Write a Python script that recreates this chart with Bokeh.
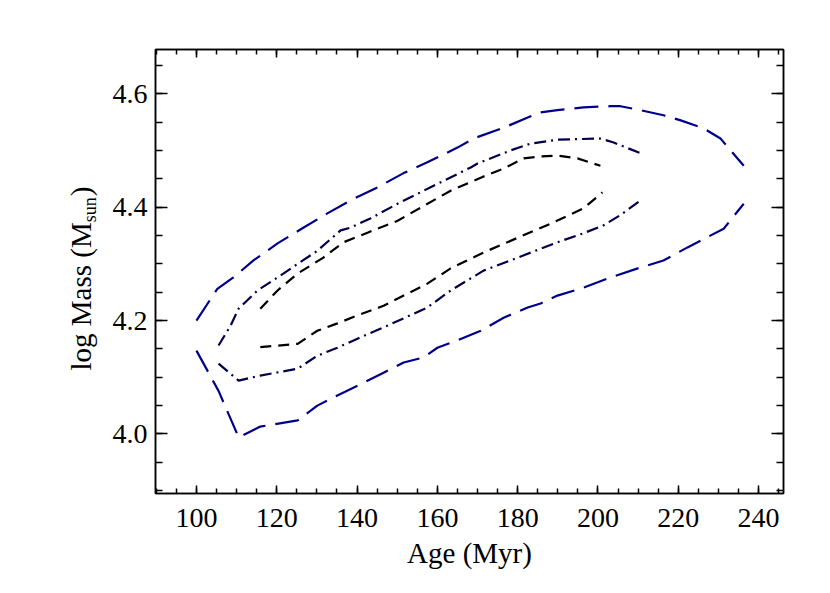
import math
from bokeh.plotting import figure
from bokeh.layouts import row
from bokeh.models import (LinearAxis, SingleIntervalTicker, PrintfTickFormatter,
                          CustomJSTickFormatter, Range1d)
from bokeh.core.properties import value
from bokeh.embed import file_html
from bokeh.resources import INLINE

# ---- data ----
outer_up_age = [100.0, 105.2, 109.2, 114.2, 120.2, 126.7, 132.6, 138.4, 145.1, 151.6, 157.5,
                165.0, 169.0, 176.5, 182.5, 185.7, 189.9, 196.4, 203.1, 205.6, 209.9, 216.3,
                220.6, 226.3, 230.5, 236.3]
outer_up_mass = [4.200, 4.256, 4.276, 4.306, 4.336, 4.364, 4.389, 4.412, 4.435, 4.460, 4.479,
                 4.505, 4.521, 4.540, 4.558, 4.567, 4.571, 4.576, 4.578, 4.578, 4.572, 4.562,
                 4.553, 4.539, 4.521, 4.473]
outer_lo_age = [100.0, 105.5, 110.5, 115.9, 125.2, 130.1, 135.1, 140.1, 146.6, 151.6, 156.6,
                160.0, 165.0, 170.8, 176.5, 182.5, 185.7, 189.9, 196.4, 203.1, 209.9, 216.3,
                222.3, 231.3, 236.3]
outer_lo_mass = [4.147, 4.076, 3.994, 4.013, 4.024, 4.050, 4.068, 4.085, 4.108, 4.126, 4.135,
                 4.152, 4.165, 4.182, 4.205, 4.223, 4.230, 4.244, 4.258, 4.276, 4.292, 4.306,
                 4.329, 4.362, 4.406]

mid_up_age = [105.5, 108.5, 110.5, 115.2, 120.2, 125.2, 130.1, 135.9, 138.4, 143.3, 150.1,
              158.3, 168.3, 170.0, 178.2, 183.2, 189.9, 200.6, 203.9, 210.6]
mid_up_mass = [4.156, 4.191, 4.221, 4.253, 4.276, 4.300, 4.323, 4.359, 4.364, 4.380, 4.406,
               4.435, 4.470, 4.477, 4.500, 4.512, 4.519, 4.521, 4.514, 4.495]
mid_lo_age = [105.5, 110.5, 115.9, 125.2, 130.1, 135.1, 140.1, 146.6, 151.6, 157.5, 163.3,
              171.5, 180.0, 189.9, 196.4, 201.4, 205.6, 210.6]
mid_lo_mass = [4.124, 4.094, 4.103, 4.115, 4.138, 4.152, 4.168, 4.188, 4.204, 4.223, 4.253,
               4.288, 4.311, 4.338, 4.354, 4.368, 4.386, 4.412]

in_up_age = [115.9, 120.2, 125.2, 131.6, 136.6, 142.6, 150.1, 155.8, 163.3, 170.8, 176.5,
             181.5, 185.0, 189.9, 194.9, 200.6]
in_up_mass = [4.221, 4.253, 4.283, 4.311, 4.338, 4.355, 4.376, 4.399, 4.429, 4.452, 4.468,
              4.486, 4.489, 4.491, 4.486, 4.473]
in_lo_age = [115.9, 125.2, 130.1, 135.1, 140.1, 146.6, 151.6, 157.5, 163.3, 171.5, 180.0,
             188.9, 196.4, 201.1]
in_lo_mass = [4.153, 4.159, 4.182, 4.195, 4.209, 4.226, 4.244, 4.265, 4.292, 4.320, 4.346,
              4.373, 4.398, 4.426]

x_title = "Age (Myr)"
y_title_parts = ["log Mass (M", "sun", ")"]

x_lo, x_hi = 89.8, 246.2
y_lo, y_hi = 3.895, 4.678

# ---- layout ----
LW = 104                 # width of the side panel that carries the y title
FL, FT, FW, FH = 155, 49, 628, 444
W, H = 798, 580
FB = H - FT - FH
FONT = "Liberation Serif"

p = figure(width=W - LW, height=H, output_backend="svg", toolbar_location=None,
           x_range=Range1d(x_lo, x_hi), y_range=Range1d(y_lo, y_hi),
           min_border_left=FL - LW, min_border_top=FT,
           min_border_right=W - FL - FW, min_border_bottom=FB,
           x_axis_location=None, y_axis_location=None)
p.xgrid.visible = False
p.ygrid.visible = False
p.outline_line_color = "black"
p.outline_line_width = 1.5
p.background_fill_color = "white"
p.border_fill_color = "white"


def style_axis(ax, tin, minin, labels=True):
    ax.major_tick_in = tin
    ax.major_tick_out = 0
    ax.minor_tick_in = minin
    ax.minor_tick_out = 0
    ax.axis_line_color = "black"
    ax.axis_line_width = 1.5
    ax.major_tick_line_width = 1.5
    ax.minor_tick_line_width = 1.5
    ax.major_tick_line_color = "black"
    ax.minor_tick_line_color = "black"
    ax.major_label_text_font = FONT
    ax.major_label_text_font_size = "28px"
    ax.major_label_text_color = "black"
    if not labels:
        ax.formatter = CustomJSTickFormatter(code="return ''")
        ax.major_label_standoff = 0


xt = SingleIntervalTicker(interval=20, num_minor_ticks=4)
yt = SingleIntervalTicker(interval=0.2, num_minor_ticks=4)

xb = LinearAxis(ticker=xt)
style_axis(xb, 8, 5)
xb.major_label_standoff = 15
xb.axis_label = x_title
xb.axis_label_text_font = FONT
xb.axis_label_text_font_size = "29px"
xb.axis_label_text_font_style = "normal"
xb.axis_label_text_color = "black"
xb.axis_label_standoff = 7
p.add_layout(xb, "below")

xa = LinearAxis(ticker=xt)
style_axis(xa, 8, 5, labels=False)
p.add_layout(xa, "above")

yl = LinearAxis(ticker=yt, formatter=PrintfTickFormatter(format="%.1f"))
style_axis(yl, 12, 7)
yl.major_label_standoff = 8
p.add_layout(yl, "left")

yr = LinearAxis(ticker=yt)
style_axis(yr, 12, 7, labels=False)
p.add_layout(yr, "right")

# ---- contours ----
BLUE = "#00008c"
NAVY = "#00004d"
p.line(outer_up_age, outer_up_mass, line_color=BLUE, line_width=2.2, line_dash="24 10")
p.line(outer_lo_age, outer_lo_mass, line_color=BLUE, line_width=2.2, line_dash="24 10")
p.line(mid_up_age, mid_up_mass, line_color=NAVY, line_width=2.2, line_dash="12 5 2 5")
p.line(mid_lo_age, mid_lo_mass, line_color=NAVY, line_width=2.2, line_dash="12 5 2 5")
p.line(in_up_age, in_up_mass, line_color="black", line_width=2.2, line_dash="11 7")
p.line(in_lo_age, in_lo_mass, line_color="black", line_width=2.2, line_dash="11 7")

# ---- side panel with the rotated y title (main text + subscript) ----
# its frame is aligned with the main frame (same top/bottom borders); the y range is
# expressed in flipped page pixels so text can be placed by page position.
side = figure(width=LW, height=H, output_backend="svg", toolbar_location=None,
              x_range=Range1d(0, LW), y_range=Range1d(H - FT - FH, H - FT),
              min_border_left=0, min_border_right=0, min_border_top=FT, min_border_bottom=FB,
              x_axis_location=None, y_axis_location=None)
side.xgrid.visible = False
side.ygrid.visible = False
side.outline_line_color = None
side.background_fill_color = "white"
side.border_fill_color = "white"

MAIN, SUB = 29, 18
mid_x, start_y = 80, 370             # page pixels: text centre line, start of text (bottom)
w_main = 5.111 * MAIN
w_sub = 1.389 * SUB
pos = [(mid_x, start_y, MAIN),
       (mid_x + 9, start_y - w_main, SUB),
       (mid_x, start_y - w_main - w_sub - 1, MAIN)]
for txt, (bx, by, fs) in zip(y_title_parts, pos):
    side.text(x=[bx], y=[H - by], text=[txt], angle=math.pi / 2,
              text_font=value(FONT), text_font_size=f"{fs}px", text_color="black",
              text_align="left", text_baseline="middle")

layout = row(side, p, spacing=0)
open("out.html", "w").write(file_html(layout, INLINE))
